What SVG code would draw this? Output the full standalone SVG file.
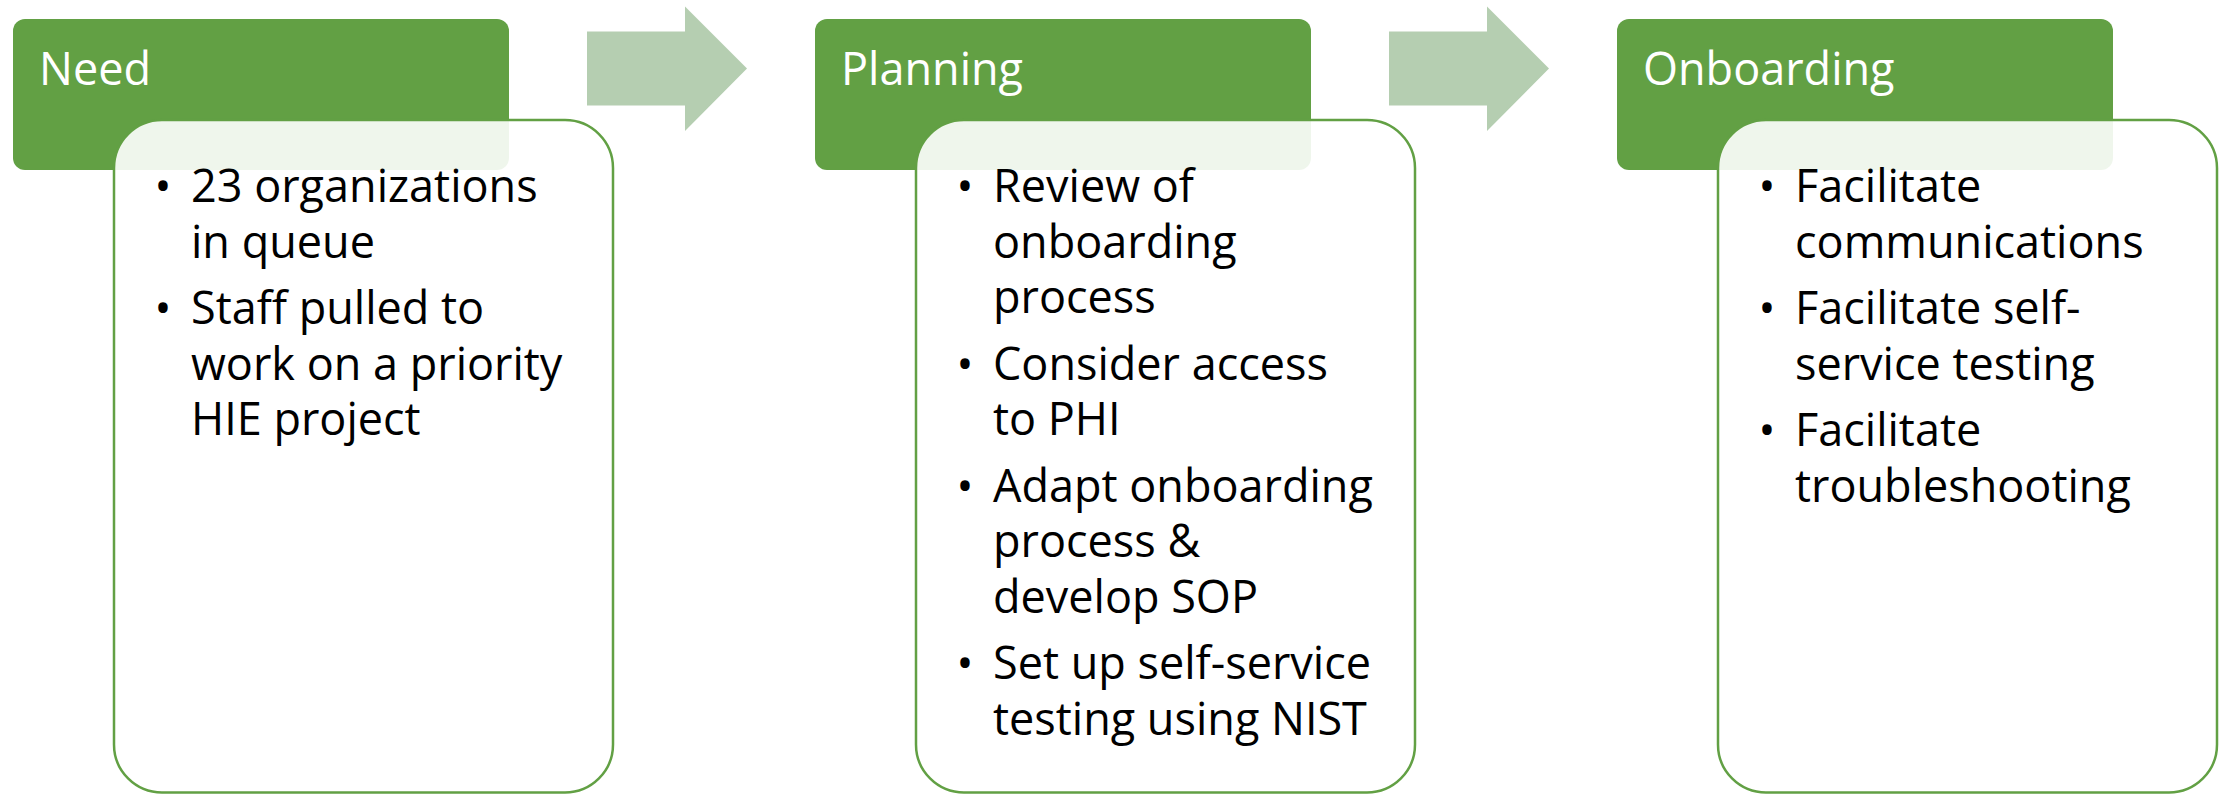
<svg xmlns="http://www.w3.org/2000/svg" width="2226" height="794" viewBox="0 0 2226 794">
<style>
.hdr{fill:#62A044}
.body{fill:#ffffff;fill-opacity:0.9;stroke:#62A044;stroke-width:2.5}
.arrow{fill:#B5CEB1}
.ht{font-family:"Open Sans","Liberation Sans",sans-serif;font-size:45px;fill:#ffffff}
.bt{font-family:"Open Sans","Liberation Sans",sans-serif;font-size:45px;fill:#000000}
</style>
<rect width="2226" height="794" fill="#ffffff"/>
<g id="connectors">
<polygon class="arrow" points="587,31.5 685,31.5 685,6.5 747,68.5 685,131 685,105.5 587,105.5"/>
<polygon class="arrow" points="1389,31.5 1487,31.5 1487,6.5 1549,68.5 1487,131 1487,105.5 1389,105.5"/>
</g>
<g id="need">
<rect class="hdr" x="13" y="19" width="496" height="151" rx="12"/>
<text class="ht" x="39" y="85">Need</text>
<rect class="body" x="114" y="120" width="499" height="672.5" rx="48"/>
<text class="bt"><tspan x="154.5" y="202">•</tspan><tspan x="191" y="202">23 organizations</tspan><tspan x="191" y="257.5">in queue</tspan><tspan x="154.5" y="324">•</tspan><tspan x="191" y="324">Staff pulled to</tspan><tspan x="191" y="379.5">work on a priority</tspan><tspan x="191" y="435">HIE project</tspan></text>
</g>
<g id="planning">
<rect class="hdr" x="815" y="19" width="496" height="151" rx="12"/>
<text class="ht" x="841" y="85">Planning</text>
<rect class="body" x="916" y="120" width="499" height="672.5" rx="48"/>
<text class="bt"><tspan x="956.5" y="202">•</tspan><tspan x="993" y="202">Review of</tspan><tspan x="993" y="257.5">onboarding</tspan><tspan x="993" y="313">process</tspan><tspan x="956.5" y="379.5">•</tspan><tspan x="993" y="379.5">Consider access</tspan><tspan x="993" y="435">to PHI</tspan><tspan x="956.5" y="501.5">•</tspan><tspan x="993" y="501.5">Adapt onboarding</tspan><tspan x="993" y="557">process &amp;</tspan><tspan x="993" y="612.5">develop SOP</tspan><tspan x="956.5" y="679">•</tspan><tspan x="993" y="679">Set up self-service</tspan><tspan x="993" y="734.5">testing using NIST</tspan></text>
</g>
<g id="onboarding">
<rect class="hdr" x="1617" y="19" width="496" height="151" rx="12"/>
<text class="ht" x="1643" y="85">Onboarding</text>
<rect class="body" x="1718" y="120" width="499" height="672.5" rx="48"/>
<text class="bt"><tspan x="1758.5" y="202">•</tspan><tspan x="1795" y="202">Facilitate</tspan><tspan x="1795" y="257.5">communications</tspan><tspan x="1758.5" y="324">•</tspan><tspan x="1795" y="324">Facilitate self-</tspan><tspan x="1795" y="379.5">service testing</tspan><tspan x="1758.5" y="446">•</tspan><tspan x="1795" y="446">Facilitate</tspan><tspan x="1795" y="501.5">troubleshooting</tspan></text>
</g>
</svg>
